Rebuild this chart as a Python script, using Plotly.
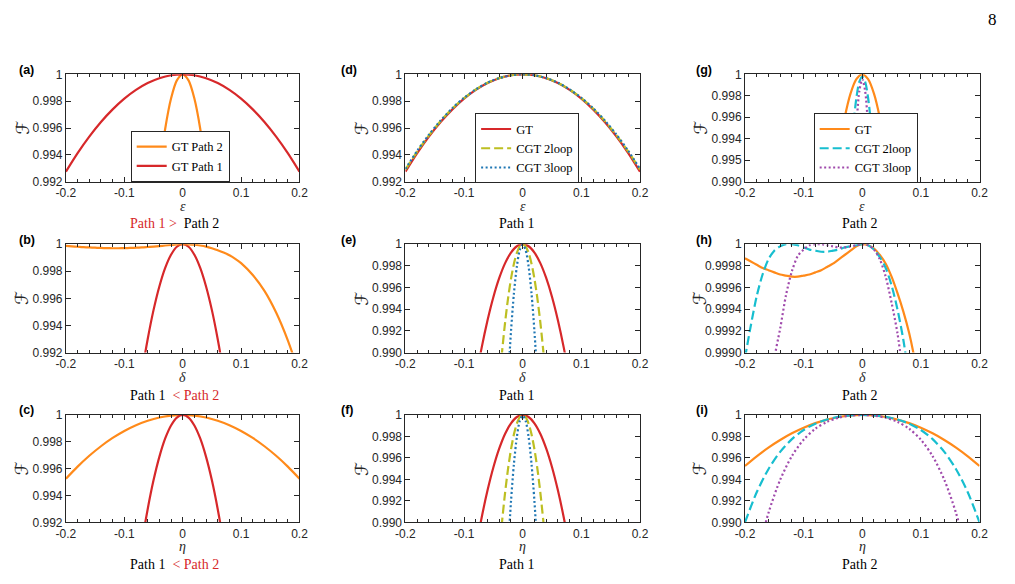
import plotly.graph_objects as go

W, H = 1015, 584

# ---------------- data ----------------
X_WIDE = [-0.20, -0.18, -0.16, -0.14, -0.12, -0.10, -0.08, -0.06, -0.04, -0.02, 0.0,
          0.02, 0.04, 0.06, 0.08, 0.10, 0.12, 0.14, 0.16, 0.18, 0.20]
X_NARROW = [-0.06, -0.05, -0.04, -0.03, -0.02, -0.01, 0.0, 0.01, 0.02, 0.03, 0.04, 0.05, 0.06]
X_MID = [-0.08, -0.07, -0.06, -0.05, -0.04, -0.03, -0.02, -0.01, 0.0,
         0.01, 0.02, 0.03, 0.04, 0.05, 0.06, 0.07, 0.08]
X_FINE = [-0.04, -0.035, -0.03, -0.025, -0.02, -0.015, -0.01, -0.005, 0.0,
          0.005, 0.01, 0.015, 0.02, 0.025, 0.03, 0.035, 0.04]
X_DELTA = [-0.20, -0.19, -0.18, -0.17, -0.16, -0.15, -0.14, -0.13, -0.12, -0.11, -0.10,
           -0.09, -0.08, -0.07, -0.06, -0.05, -0.04, -0.03, -0.02, -0.01, 0.0,
           0.01, 0.02, 0.03, 0.04, 0.05, 0.06, 0.07, 0.08, 0.09, 0.10,
           0.12, 0.14, 0.16, 0.18, 0.20]

# (a)/(d): epsilon, Path 1 (wide) and CGT
EPS_GT_P1 = [0.99275, 0.99413, 0.99536, 0.99645, 0.99739, 0.99819, 0.99884, 0.99935, 0.99971, 0.99993, 1.0,
             0.99993, 0.99971, 0.99935, 0.99884, 0.99819, 0.99739, 0.99645, 0.99536, 0.99413, 0.99275]
EPS_CGT2_P1 = [0.99290, 0.99425, 0.99545, 0.99652, 0.99745, 0.99823, 0.99887, 0.99937, 0.99972, 0.99993, 1.0,
               0.99993, 0.99972, 0.99937, 0.99887, 0.99823, 0.99745, 0.99652, 0.99545, 0.99425, 0.99290]
EPS_CGT3_P1 = [0.99295, 0.99430, 0.99550, 0.99656, 0.99748, 0.99825, 0.99888, 0.99938, 0.99972, 0.99993, 1.0,
               0.99993, 0.99972, 0.99938, 0.99888, 0.99825, 0.99748, 0.99656, 0.99550, 0.99430, 0.99295]
# (a)/(g): epsilon, Path 2 (narrow)
EPS_GT_P2 = [0.98380, 0.98875, 0.99280, 0.99595, 0.99820, 0.99955, 1.0,
             0.99955, 0.99820, 0.99595, 0.99280, 0.98875, 0.98380]
EPS_CGT2_P2 = [0.9678, 0.9736, 0.9818, 0.9873, 0.9918, 0.9953, 0.9978, 0.9993, 0.9998,
               0.9993, 0.9978, 0.9953, 0.9918, 0.9873, 0.9818, 0.9736, 0.9678]
EPS_CGT3_P2 = [0.9275, 0.9444, 0.9590, 0.9715, 0.9816, 0.98943, 0.99505, 0.99843, 0.99955,
               0.99843, 0.99505, 0.98943, 0.9816, 0.9715, 0.9590, 0.9444, 0.9275]

# delta / eta, Path 1 (narrow GT on X_MID) and CGT (on X_FINE)
DE_GT_P1 = [0.98752, 0.99045, 0.99298, 0.99513, 0.99688, 0.99825, 0.99922, 0.99981, 1.0,
            0.99981, 0.99922, 0.99825, 0.99688, 0.99513, 0.99298, 0.99045, 0.98752]
DE_CGT2_P1 = [0.9872, 0.9902, 0.9928, 0.9950, 0.9968, 0.9982, 0.9992, 0.9998, 1.0,
              0.9998, 0.9992, 0.9982, 0.9968, 0.9950, 0.9928, 0.9902, 0.9872]
DE_CGT3_P1 = [0.96795, 0.97545, 0.98195, 0.98745, 0.99195, 0.99545, 0.99795, 0.99945, 0.99995,
              0.99945, 0.99795, 0.99545, 0.99195, 0.98745, 0.98195, 0.97545, 0.96795]

# delta, Path 2
DELTA_GT_P2 = [0.99987, 0.99984, 0.99981, 0.99978, 0.99976, 0.99974, 0.99972, 0.99971, 0.99970, 0.99970, 0.99971,
               0.99972, 0.99974, 0.99976, 0.99979, 0.99982, 0.99986, 0.99990, 0.99994, 0.99998, 1.0,
               0.99999, 0.99996, 0.99990, 0.99982, 0.99970, 0.99955, 0.99938, 0.99918, 0.99892, 0.99860,
               0.99772, 0.99655, 0.99495, 0.99290, 0.99040]
DELTA_CGT2_X = [-0.20, -0.19, -0.18, -0.17, -0.16, -0.15, -0.14, -0.13, -0.12, -0.11, -0.10,
                -0.09, -0.08, -0.07, -0.06, -0.05, -0.04, -0.03, -0.02, -0.01, 0.0,
                0.01, 0.02, 0.03, 0.04, 0.05, 0.06, 0.07, 0.08]
DELTA_CGT2_P2 = [0.99895, 0.99925, 0.99952, 0.99972, 0.99986, 0.99994, 0.99998, 1.0, 1.0, 0.99999, 0.99997,
                 0.99995, 0.99994, 0.99993, 0.99993, 0.99994, 0.99995, 0.99997, 0.99998, 0.99999, 1.0,
                 0.99999, 0.99995, 0.99988, 0.99978, 0.99962, 0.99940, 0.99912, 0.99875]
DELTA_CGT3_X = [-0.16, -0.15, -0.14, -0.13, -0.12, -0.11, -0.10, -0.09, -0.08, -0.07, -0.06,
                -0.05, -0.04, -0.03, -0.02, -0.01, 0.0, 0.01, 0.02, 0.03, 0.04, 0.05, 0.06, 0.07]
DELTA_CGT3_P2 = [0.99840, 0.99894, 0.99922, 0.99953, 0.99975, 0.99989, 0.99995, 0.99999, 1.0, 1.0, 0.99999,
                 0.99998, 0.99997, 0.99997, 0.99998, 0.99999, 1.0, 0.99999, 0.99995, 0.99986, 0.99970,
                 0.99946, 0.99918, 0.99878]

# eta, Path 2
ETA_GT_P2 = [0.99525, 0.99615, 0.99696, 0.99767, 0.99829, 0.99881, 0.99924, 0.99957, 0.99981, 0.99995, 1.0,
             0.99995, 0.99981, 0.99957, 0.99924, 0.99881, 0.99829, 0.99767, 0.99696, 0.99615, 0.99525]
ETA_CGT2_P2 = [0.99000, 0.99280, 0.99495, 0.99657, 0.99775, 0.99860, 0.99919, 0.99958, 0.99983, 0.99996, 1.0,
               0.99996, 0.99983, 0.99958, 0.99919, 0.99860, 0.99775, 0.99657, 0.99495, 0.99280, 0.99000]
ETA_CGT3_P2 = [0.98100, 0.98664, 0.99086, 0.99396, 0.99617, 0.99770, 0.99872, 0.99936, 0.99974, 0.99994, 1.0,
               0.99994, 0.99974, 0.99936, 0.99872, 0.99770, 0.99617, 0.99396, 0.99086, 0.98664, 0.98100]

X_TICKS = [-0.2, -0.1, 0, 0.1, 0.2]
X_TICKTEXT = ["-0.2", "-0.1", "0", "0.1", "0.2"]
Y_TICKS_992 = [0.992, 0.994, 0.996, 0.998, 1.0]
Y_TEXT_992 = ["0.992", "0.994", "0.996", "0.998", "1"]
Y_TICKS_990 = [0.990, 0.992, 0.994, 0.996, 0.998, 1.0]
Y_TEXT_990 = ["0.990", "0.992", "0.994", "0.996", "0.998", "1"]
Y_TEXT_990G = ["0.990", "0.995", "0.994", "0.996", "0.998", "1"]
Y_TICKS_999 = [0.9990, 0.9992, 0.9994, 0.9996, 0.9998, 1.0]
Y_TEXT_999 = ["0.9990", "0.9992", "0.9994", "0.9996", "0.9998", "1"]

RED = "#D7282A"
ORANGE = "#FF8A1A"
OLIVE = "#BDBF22"
BLUE = "#1F77B4"
CYAN = "#17BECF"
PURPLE = "#A04AAC"
AXC = "#262626"

# ---------------- layout helpers ----------------
COLS = [(57, 295), (403, 642), (749, 988)]
ROWS = [(69, 179), (243, 354), (418, 528)]


def px(xp):
    return xp / W


def py(yp):
    return 1 - yp / H


fig = go.Figure()

panels = {
    "a": (0, 0, [0.992, 1.0], Y_TICKS_992, Y_TEXT_992),
    "b": (0, 1, [0.992, 1.0], Y_TICKS_992, Y_TEXT_992),
    "c": (0, 2, [0.992, 1.0], Y_TICKS_992, Y_TEXT_992),
    "d": (1, 0, [0.992, 1.0], Y_TICKS_992, Y_TEXT_992),
    "e": (1, 1, [0.990, 1.0], Y_TICKS_990, Y_TEXT_990),
    "f": (1, 2, [0.990, 1.0], Y_TICKS_990, Y_TEXT_990),
    "g": (2, 0, [0.990, 1.0], Y_TICKS_990, Y_TEXT_990G),
    "h": (2, 1, [0.9990, 1.0], Y_TICKS_999, Y_TEXT_999),
    "i": (2, 2, [0.990, 1.0], Y_TICKS_990, Y_TEXT_990),
}
order = "abcdefghi"
axis_id = {k: i + 1 for i, k in enumerate(order)}

tickfont = dict(family="Liberation Sans, Arial", size=12, color=AXC)
for k in order:
    c, r, yr, yt, ytt = panels[k]
    n = axis_id[k]
    sfx = "" if n == 1 else str(n)
    fig.layout["xaxis" + sfx] = dict(
        domain=[px(COLS[c][0]), px(COLS[c][1])], anchor="y" + sfx, range=[-0.2, 0.2],
        tickvals=X_TICKS, ticktext=X_TICKTEXT, ticks="inside", ticklen=5, tickwidth=1,
        tickcolor=AXC, showline=True, linecolor=AXC, linewidth=1, mirror="allticks",
        showgrid=False, zeroline=False, tickfont=tickfont,
        minor=dict(dtick=0.02, tick0=0, ticks="inside", ticklen=3, tickcolor=AXC, showgrid=False),
    )
    fig.layout["yaxis" + sfx] = dict(
        domain=[py(ROWS[r][1]), py(ROWS[r][0])], anchor="x" + sfx, range=yr,
        tickvals=yt, ticktext=ytt, ticks="inside", ticklen=5, tickwidth=1,
        tickcolor=AXC, showline=True, linecolor=AXC, linewidth=1, mirror="allticks",
        showgrid=False, zeroline=False, tickfont=tickfont,
    )


def add(k, x, y, color, dash="solid", width=2.2, name=None, legend=None):
    n = axis_id[k]
    sfx = "" if n == 1 else str(n)
    fig.add_trace(go.Scatter(
        x=x, y=y, mode="lines", line=dict(color=color, width=width, dash=dash, shape="spline", smoothing=0.8),
        xaxis="x" + sfx, yaxis="y" + sfx, name=name or "",
        showlegend=legend is not None, legend=legend or "legend", hoverinfo="skip",
    ))


DASH = "9px,4px"
DOT = "2px,2.5px"

# (a)
add("a", X_NARROW, EPS_GT_P2, ORANGE, name="GT Path 2", legend="legend")
add("a", X_WIDE, EPS_GT_P1, RED, name="GT Path 1", legend="legend")
# (b)
add("b", X_MID, DE_GT_P1, RED)
add("b", X_DELTA, DELTA_GT_P2, ORANGE)
# (c)
add("c", X_WIDE, ETA_GT_P2, ORANGE)
add("c", X_MID, DE_GT_P1, RED)
# (d)
add("d", X_WIDE, EPS_GT_P1, RED, name="GT", legend="legend2")
add("d", X_WIDE, EPS_CGT2_P1, OLIVE, dash=DASH, name="CGT 2loop", legend="legend2")
add("d", X_WIDE, EPS_CGT3_P1, BLUE, dash=DOT, name="CGT 3loop", legend="legend2")
# (e)
add("e", X_MID, DE_GT_P1, RED)
add("e", X_FINE, DE_CGT2_P1, OLIVE, dash=DASH)
add("e", X_FINE, DE_CGT3_P1, BLUE, dash=DOT)
# (f)
add("f", X_MID, DE_GT_P1, RED)
add("f", X_FINE, DE_CGT2_P1, OLIVE, dash=DASH)
add("f", X_FINE, DE_CGT3_P1, BLUE, dash=DOT)
# (g)
add("g", X_NARROW, EPS_GT_P2, ORANGE, name="GT", legend="legend3")
add("g", X_FINE, EPS_CGT2_P2, CYAN, dash=DASH, name="CGT 2loop", legend="legend3")
add("g", X_FINE, EPS_CGT3_P2, PURPLE, dash=DOT, name="CGT 3loop", legend="legend3")
# (h)
add("h", X_DELTA, DELTA_GT_P2, ORANGE)
add("h", DELTA_CGT2_X, DELTA_CGT2_P2, CYAN, dash=DASH)
add("h", DELTA_CGT3_X, DELTA_CGT3_P2, PURPLE, dash=DOT)
# (i)
add("i", X_WIDE, ETA_GT_P2, ORANGE)
add("i", X_WIDE, ETA_CGT2_P2, CYAN, dash=DASH)
add("i", X_WIDE, ETA_CGT3_P2, PURPLE, dash=DOT)

legfont = dict(family="Liberation Serif, Times New Roman", size=12.5, color="black")
legcommon = dict(xanchor="left", yanchor="top", bgcolor="white", bordercolor=AXC, borderwidth=1,
                 font=legfont, itemwidth=30, tracegroupgap=0)

fig.update_layout(
    width=W, height=H, margin=dict(l=0, r=0, t=0, b=0),
    paper_bgcolor="white", plot_bgcolor="white",
    legend=dict(x=px(123), y=py(127), **legcommon),
    legend2=dict(x=px(474), y=py(109), **legcommon),
    legend3=dict(x=px(819), y=py(109), **legcommon),
)

ann = []
serif = "Liberation Serif, Times New Roman"
# panel letters
letters = {"a": (7, 65), "b": (7, 239), "c": (7, 413), "d": (335, 65), "e": (335, 239), "f": (335, 413),
           "g": (697, 65), "h": (697, 239), "i": (697, 413)}
for k, (lx, ly) in letters.items():
    ann.append(dict(text="<b>(%s)</b>" % k, x=px(lx), y=py(ly), xref="paper", yref="paper",
                    xanchor="left", yanchor="middle", showarrow=False,
                    font=dict(family="Liberation Sans, Arial", size=12.5, color="black")))
# y labels
for cx in [12, 358, 703]:
    for (t, b) in ROWS:
        ann.append(dict(text="ℱ", x=px(cx), y=py((t + b) / 2), xref="paper", yref="paper",
                        textangle=-90, showarrow=False, xanchor="center", yanchor="middle",
                        font=dict(family="DejaVu Serif, DejaVu Sans", size=18, color=AXC)))
# x labels
xl_rows = [(204, "ε"), (380, "δ"), (553, "η")]
for (c0, c1) in COLS:
    for (yy, sym) in xl_rows:
        ann.append(dict(text="<i>%s</i>" % sym, x=px((c0 + c1) / 2), y=py(yy), xref="paper", yref="paper",
                        showarrow=False, xanchor="center", yanchor="middle",
                        font=dict(family=serif, size=14, color=AXC)))
# captions
CRED = "#D62728"
caps = [
    (168, 222, "<span style='color:%s'>Path 1 &gt;</span>  Path 2" % CRED),
    (168, 398, "Path 1  <span style='color:%s'>&lt; Path 2</span>" % CRED),
    (168, 571, "Path 1  <span style='color:%s'>&lt; Path 2</span>" % CRED),
    (516, 222, "Path 1"), (516, 398, "Path 1"), (516, 571, "Path 1"),
    (866, 222, "Path 2"), (866, 398, "Path 2"), (866, 571, "Path 2"),
]
for (cx, cy, t) in caps:
    ann.append(dict(text=t, x=px(cx), y=py(cy), xref="paper", yref="paper", showarrow=False,
                    xanchor="center", yanchor="middle", font=dict(family=serif, size=14, color="black")))
# page number
ann.append(dict(text="8", x=px(1001), y=py(13), xref="paper", yref="paper", showarrow=False,
                xanchor="center", yanchor="middle", font=dict(family=serif, size=17, color="black")))
fig.update_layout(annotations=ann)

fig.write_html("out.html")
